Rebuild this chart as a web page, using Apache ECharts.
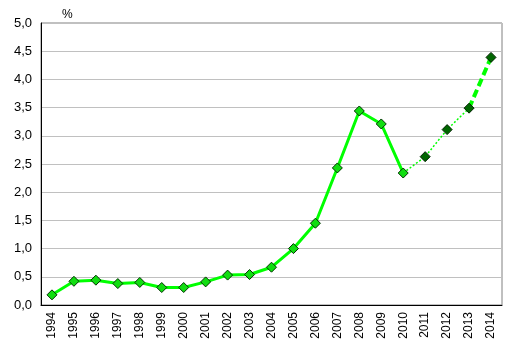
<!DOCTYPE html>
<html><head><meta charset="utf-8">
<script src="https://cdn.jsdelivr.net/npm/echarts@6/dist/echarts.min.js"></script>
<style>html,body{margin:0;padding:0;background:#fff}#c{width:515px;height:355px}</style>
</head><body><div id="c"></div>
<script>
var years = ['1994','1995','1996','1997','1998','1999','2000','2001','2002','2003','2004','2005','2006','2007','2008','2009','2010','2011','2012','2013','2014'];
var actual = [0.18,0.42,0.44,0.38,0.40,0.31,0.31,0.41,0.53,0.54,0.67,1.00,1.45,2.43,3.44,3.21,2.34];
var forecast = [2.34,2.63,3.11,3.49,4.39]; // 2010..2014
var yTicks = [0,0.5,1,1.5,2,2.5,3,3.5,4,4.5,5];

var n = years.length, fStart = actual.length - 1;
var s1 = years.map(function(y,i){ return i < actual.length ? actual[i] : null; });
var s2 = years.map(function(y,i){ return (i >= fStart && i <= fStart+3) ? forecast[i-fStart] : null; });
var s3 = years.map(function(y,i){ return (i >= fStart+3) ? forecast[i-fStart] : null; });
var s4 = years.map(function(y,i){ return (i > fStart) ? forecast[i-fStart] : null; });

var chart = echarts.init(document.getElementById('c'));
chart.setOption({
  animation:false,
  textStyle:{fontFamily:'Liberation Sans, Arial, sans-serif'},
  grid:{left:41,right:13,top:23,bottom:50,show:true,borderColor:'#808080',borderWidth:1},
  graphic:[{type:'text',left:62,top:9,style:{text:'%',font:'12px Liberation Sans, Arial',fill:'#000'}}],
  xAxis:{type:'category',data:years,boundaryGap:true,
    axisLine:{lineStyle:{color:'#000',width:1}},
    axisTick:{show:false},
    axisLabel:{rotate:90,color:'#000',fontSize:12,margin:7,interval:0}},
  yAxis:{type:'value',min:0,max:5,interval:0.5,
    axisLine:{show:true,lineStyle:{color:'#000',width:1}},
    axisTick:{show:false},
    splitLine:{lineStyle:{color:'#c0c0c0'}},
    axisLabel:{color:'#000',fontSize:13,margin:9,formatter:function(v){return v.toFixed(1).replace('.',',');}}},
  series:[
    {type:'line',data:s2,symbol:'none',z:2,lineStyle:{color:'#00ff00',width:1.5,type:[2,2]}},
    {type:'line',data:s3,symbol:'none',z:2,lineStyle:{color:'#00ff00',width:4,type:[8,4]}},
    {type:'line',data:s1,symbol:'diamond',symbolSize:10,showAllSymbol:true,z:3,
      lineStyle:{color:'#00ff00',width:3},
      itemStyle:{color:'#11dd11',borderColor:'#003300',borderWidth:1}},
    {type:'line',data:s4,symbol:'diamond',symbolSize:10,showAllSymbol:true,z:4,
      lineStyle:{width:0,opacity:0},
      itemStyle:{color:'#006600',borderColor:'#002200',borderWidth:1}}
  ]
});
</script></body></html>
